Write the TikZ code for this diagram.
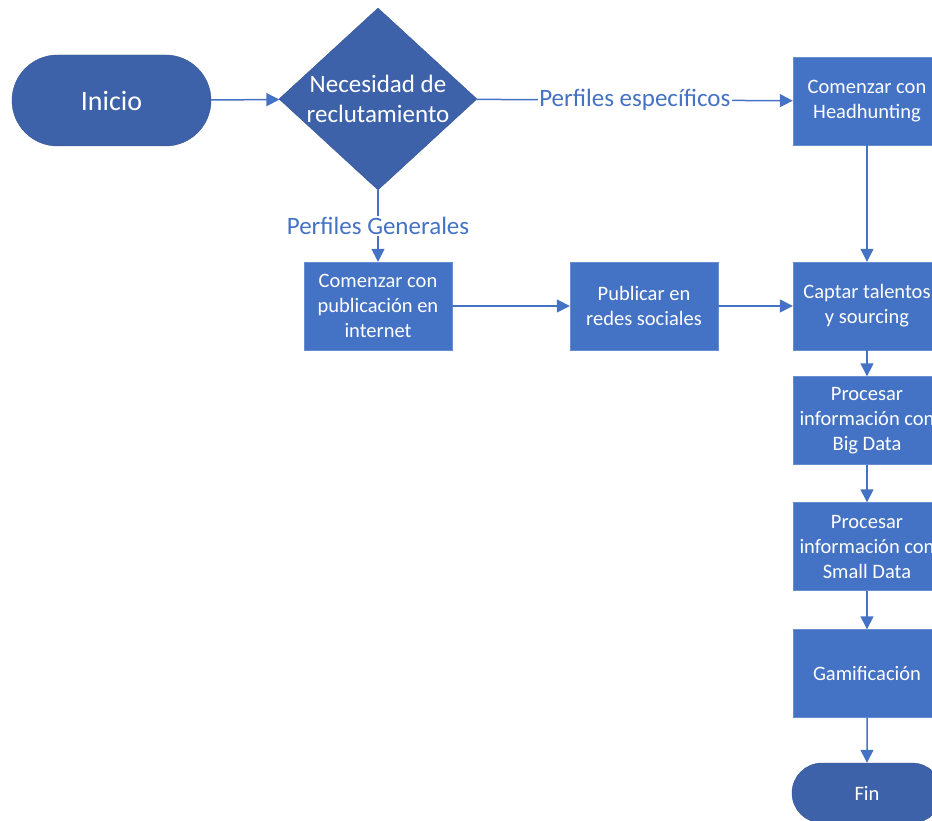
\documentclass[tikz,border=0pt]{standalone}
\usepackage{fontspec}
\setmainfont{Carlito}
\usetikzlibrary{arrows.meta,
                shapes.geometric,
                shapes.misc,
                quotes}
\definecolor{boxblue}{HTML}{4472C4}
\definecolor{termblue}{HTML}{3E62AA}

\begin{document}
\begin{tikzpicture}[x=1pt, y=-1pt,
every edge/.style = {draw, -{Triangle[length=13pt,width=13pt]}, line width=1.5pt, boxblue},
every edge quotes/.style = {fill=white, inner sep=1.5pt, text=boxblue,
                            font=\fontsize{25}{29}\selectfont},
       box/.style = {rectangle, fill=boxblue, draw=boxblue!80!white, thin,
                     minimum width=148pt, minimum height=88pt, inner sep=0pt,
                     align=center, text=white, font=\fontsize{20.5}{25}\selectfont},
      term/.style = {rounded rectangle, fill=termblue, draw=termblue!85!black, thin,
                     inner sep=0pt, text=white},
  decision/.style = {diamond, aspect=1.09, fill=termblue, draw=termblue!85!black, thin,
                     minimum width=198pt, minimum height=182pt, inner sep=0pt,
                     align=center, text=white, font=\fontsize{25}{29.5}\selectfont}
                    ]
\clip (0,0) rectangle (932,821);

\node (inicio) [term, minimum width=199pt, minimum height=91pt,
                font=\fontsize{28}{32}\selectfont] at (111.5,100.5) {Inicio};
\node (necesidad) [decision] at (378,99) {Necesidad de\\ reclutamiento};
\node (head)    [box] at (867,101) {Comenzar con\\ Headhunting};
\node (publi)   [box] at (378,306) {Comenzar con\\ publicación en\\ internet};
\node (redes)   [box] at (644,306) {Publicar en\\ redes sociales};
\node (captar)  [box] at (867,306) {Captar talentos\\ y sourcing};
\node (big)     [box] at (867,420.5) {Procesar\\ información con\\ Big Data};
\node (small)   [box] at (867,546.5) {Procesar\\ información con\\ Small Data};
\node (gami)    [box] at (867,673.5) {Gamificación};
\node (fin) [term, minimum width=150pt, minimum height=60pt,
             font=\fontsize{20.5}{25}\selectfont] at (867,793) {Fin};

\draw   (inicio)    edge                            (necesidad)
        (necesidad) edge ["Perfiles específicos"]   (head)
        (necesidad) edge ["Perfiles Generales"]     (publi)
        (publi)     edge                            (redes)
        (redes)     edge                            (captar)
        (head)      edge                            (captar)
        (captar)    edge                            (big)
        (big)       edge                            (small)
        (small)     edge                            (gami)
        (gami)      edge                            (fin);
\end{tikzpicture}
\end{document}
